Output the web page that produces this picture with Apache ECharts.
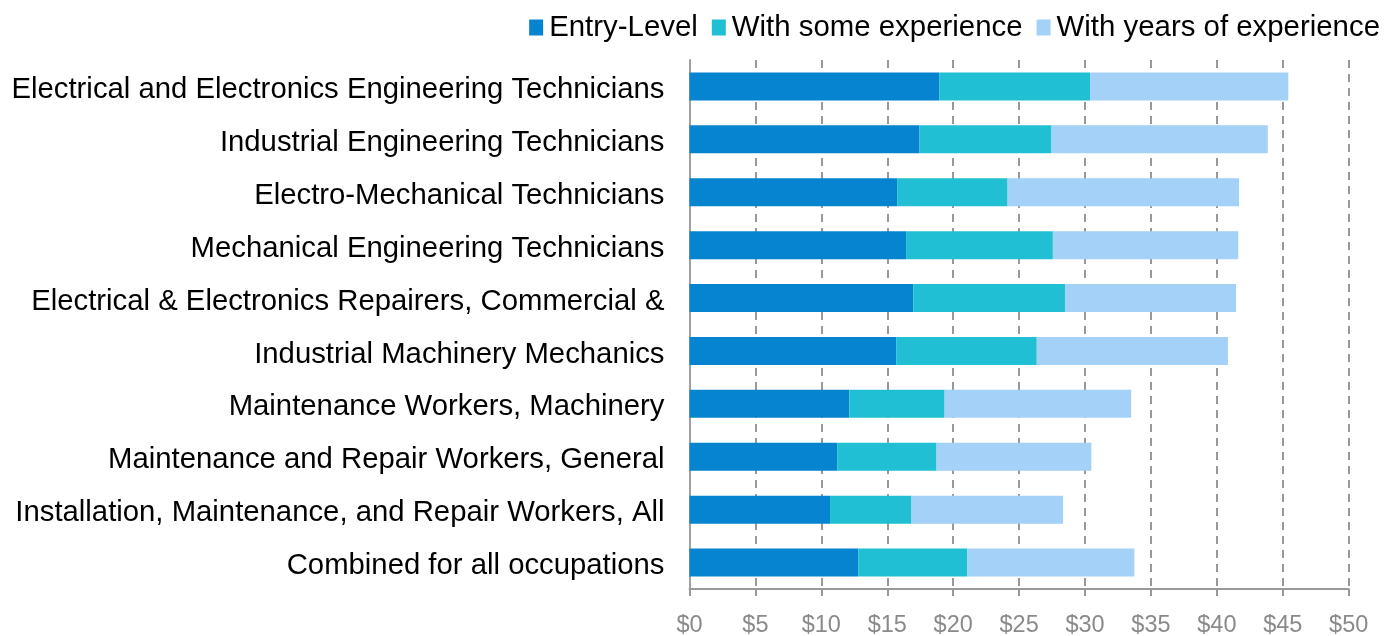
<!DOCTYPE html>
<html>
<head>
<meta charset="utf-8">
<script src="https://cdn.jsdelivr.net/npm/echarts@6/dist/echarts.min.js"></script>
<style>
html,body{margin:0;padding:0;background:#fff;}
#chart{width:1398px;height:636px;}
</style>
</head>
<body>
<div id="chart"></div>
<script>
const categories = [
  "Electrical and Electronics Engineering Technicians",
  "Industrial Engineering Technicians",
  "Electro-Mechanical Technicians",
  "Mechanical Engineering Technicians",
  "Electrical & Electronics Repairers, Commercial &",
  "Industrial Machinery Mechanics",
  "Maintenance Workers, Machinery",
  "Maintenance and Repair Workers, General",
  "Installation, Maintenance, and Repair Workers, All",
  "Combined for all occupations"
];
const seriesNames = ["Entry-Level", "With some experience", "With years of experience"];
const entryLevel = [18.94, 17.45, 15.75, 16.43, 16.97, 15.68, 12.12, 11.20, 10.66, 12.80];
const someExperience = [11.44, 10.01, 8.38, 11.13, 11.51, 10.66, 7.23, 7.54, 6.18, 8.28];
const yearsExperience = [15.04, 16.40, 17.55, 14.06, 12.97, 14.50, 14.15, 11.74, 11.50, 12.66];
const xTicks = { min: 0, max: 50, interval: 5 };

const colors = ["#0784CF", "#20BFD3", "#A3D1F7"];
const chart = echarts.init(document.getElementById('chart'));
const font = "'Liberation Sans', Arial, sans-serif";
const mk = (name, data, i) => ({
  name: name,
  type: 'bar',
  stack: 'total',
  data: data,
  barWidth: 28,
  itemStyle: { color: colors[i] },
  emphasis: { disabled: true }
});
chart.setOption({
  animation: false,
  textStyle: { fontFamily: font },
  legend: {
    right: 13,
    top: 8,
    itemWidth: 14,
    itemHeight: 16,
    itemGap: 14,
    icon: 'rect',
    textStyle: { fontSize: 29.4, color: '#000', fontFamily: font, padding: [0,0,0,1] },
    data: seriesNames
  },
  grid: { left: 689.5, right: 49.3, top: 60, bottom: 47, containLabel: false, outerBoundsMode: 'none' },
  xAxis: {
    type: 'value',
    min: xTicks.min, max: xTicks.max, interval: xTicks.interval,
    axisLine: { show: true, lineStyle: { color: '#999', width: 2 } },
    axisTick: { show: true, length: 7, lineStyle: { color: '#999', width: 2 } },
    splitLine: { show: true, lineStyle: { color: '#999', width: 2, type: [8, 6] } },
    axisLabel: {
      formatter: v => '$' + v,
      color: '#8a8a8a',
      fontSize: 23.5,
      fontFamily: font,
      margin: 25
    }
  },
  yAxis: {
    type: 'category',
    inverse: true,
    data: categories,
    axisLine: { show: true, lineStyle: { color: '#a0a0a0', width: 2 } },
    axisTick: { show: false },
    axisLabel: {
      color: '#000', margin: 25,
      formatter: v => '{a|' + v + '}',
      rich: { a: { fontSize: 29.3, color: '#000', fontFamily: font, padding: [7, 0, 0, 0] } }
    }
  },
  series: [
    mk(seriesNames[0], entryLevel, 0),
    mk(seriesNames[1], someExperience, 1),
    mk(seriesNames[2], yearsExperience, 2)
  ]
});
</script>
</body>
</html>
